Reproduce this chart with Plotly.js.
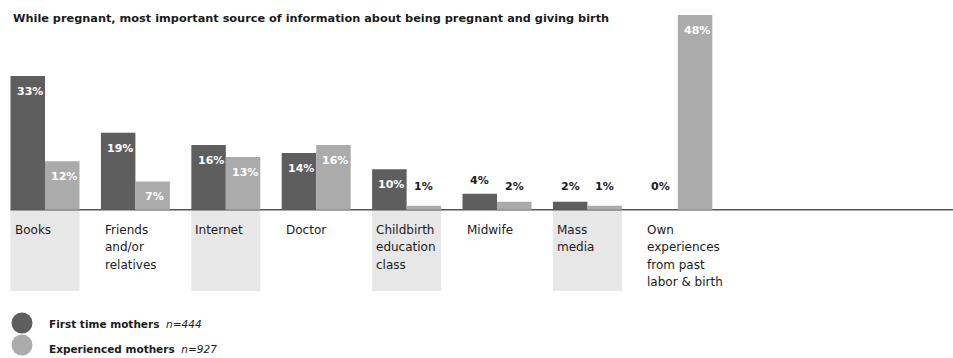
<!DOCTYPE html>
<html>
<head>
<meta charset="utf-8">
<script src="https://cdn.plot.ly/plotly-3.0.1.min.js"></script>
<style>html,body{margin:0;padding:0;background:#fff;}#chart{width:953px;height:358px;}</style>
</head>
<body>
<div id="chart"></div>
<script>
const titleText = "While pregnant, most important source of information about being pregnant and giving birth";
const categories = ["Books", "Friends<br>and/or<br>relatives", "Internet", "Doctor", "Childbirth<br>education<br>class", "Midwife", "Mass<br>media", "Own<br>experiences<br>from past<br>labor & birth"];
const firstTime = [33, 19, 16, 14, 10, 4, 2, 0];
const experienced = [12, 7, 13, 16, 1, 2, 1, 48];
const seriesNames = ["First time mothers", "Experienced mothers"];
const sampleSizes = ["n=444", "n=927"];

const FONT = "DejaVu Sans";
const DARK = "#5e5e5e", LIGHT = "#ababab", SHADE = "#e7e7e7", INK = "#1b1b1b";
const BARGAP = 0.237;
const halfGroup = (1 - BARGAP) / 2;
const idx = categories.map((_, i) => i);

const traces = [
  {type: "bar", x: idx, y: firstTime, name: seriesNames[0], marker: {color: DARK}, hoverinfo: "skip"},
  {type: "bar", x: idx, y: experienced, name: seriesNames[1], marker: {color: LIGHT}, hoverinfo: "skip"}
];

const shapes = [];
const annotations = [];

// shaded label panels under alternate categories
idx.forEach(i => {
  if (i % 2 === 0 && i < 7) {
    shapes.push({type: "rect", layer: "below", xref: "x", yref: "y",
      x0: i - halfGroup, x1: i + halfGroup, y0: 0, y1: -20,
      fillcolor: SHADE, line: {width: 0}});
  }
});
// baseline
shapes.push({type: "line", layer: "below", xref: "x", yref: "y",
  x0: -halfGroup, x1: 10.2, y0: 0, y1: 0, line: {color: "#555", width: 1.5}});

// category labels (one annotation per line, left aligned)
categories.forEach((c, i) => {
  c.split("<br>").forEach((line, k) => {
    annotations.push({xref: "x", yref: "y", x: i - halfGroup, y: 0,
      xanchor: "left", yanchor: "middle", xshift: 2, yshift: -(20 + 17.5 * k),
      text: line, showarrow: false, font: {family: FONT, size: 12, color: INK}});
  });
});

// value labels
[firstTime, experienced].forEach((vals, s) => {
  const off = (s === 0 ? -1 : 1) * halfGroup / 2;
  vals.forEach((v, i) => {
    const inside = v >= 5;
    annotations.push({xref: "x", yref: "y", x: i + off,
      y: inside ? v : Math.max(v, 2.5),
      xanchor: "center", yanchor: inside ? "top" : "bottom",
      yshift: inside ? -7 : 5, xshift: inside ? 2 : 0,
      text: "<b>" + v + "%</b>", showarrow: false,
      font: {family: FONT, size: 11, color: inside ? "#ffffff" : INK}});
  });
});

// title
annotations.push({xref: "paper", yref: "paper", x: 0, y: 1, xanchor: "left", yanchor: "middle",
  xshift: 11, yshift: -11, text: "<b>" + titleText + "</b>", showarrow: false,
  font: {family: FONT, size: 11.3, color: INK}});

// custom legend
const legendColors = [DARK, LIGHT];
const circleCenters = [-32, -54];
const textCenters = [-33, -58];
seriesNames.forEach((nm, s) => {
  shapes.push({type: "circle", xref: "paper", yref: "paper",
    xsizemode: "pixel", ysizemode: "pixel", xanchor: 0, yanchor: 0,
    x0: 11.5, x1: 32.5, y0: circleCenters[s] - 10.5, y1: circleCenters[s] + 10.5,
    fillcolor: legendColors[s], line: {width: 0}});
  annotations.push({xref: "paper", yref: "paper", x: 0, y: 0, xanchor: "left", yanchor: "middle",
    xshift: 47, yshift: textCenters[s],
    text: "<b>" + nm + "</b>  <i>" + sampleSizes[s] + "</i>", showarrow: false,
    font: {family: FONT, size: 10.5, color: INK}});
});

const layout = {
  width: 953, height: 358,
  margin: {l: 0, r: 0, t: 7, b: 67, pad: 0},
  paper_bgcolor: "#fff", plot_bgcolor: "#fff",
  barmode: "group", bargap: BARGAP, bargroupgap: 0,
  showlegend: false,
  xaxis: {range: [-0.4978, 10.044], visible: false, fixedrange: true},
  yaxis: {range: [-20, 50], visible: false, fixedrange: true},
  shapes: shapes, annotations: annotations
};

Plotly.newPlot("chart", traces, layout, {displayModeBar: false, staticPlot: true});
</script>
</body>
</html>
